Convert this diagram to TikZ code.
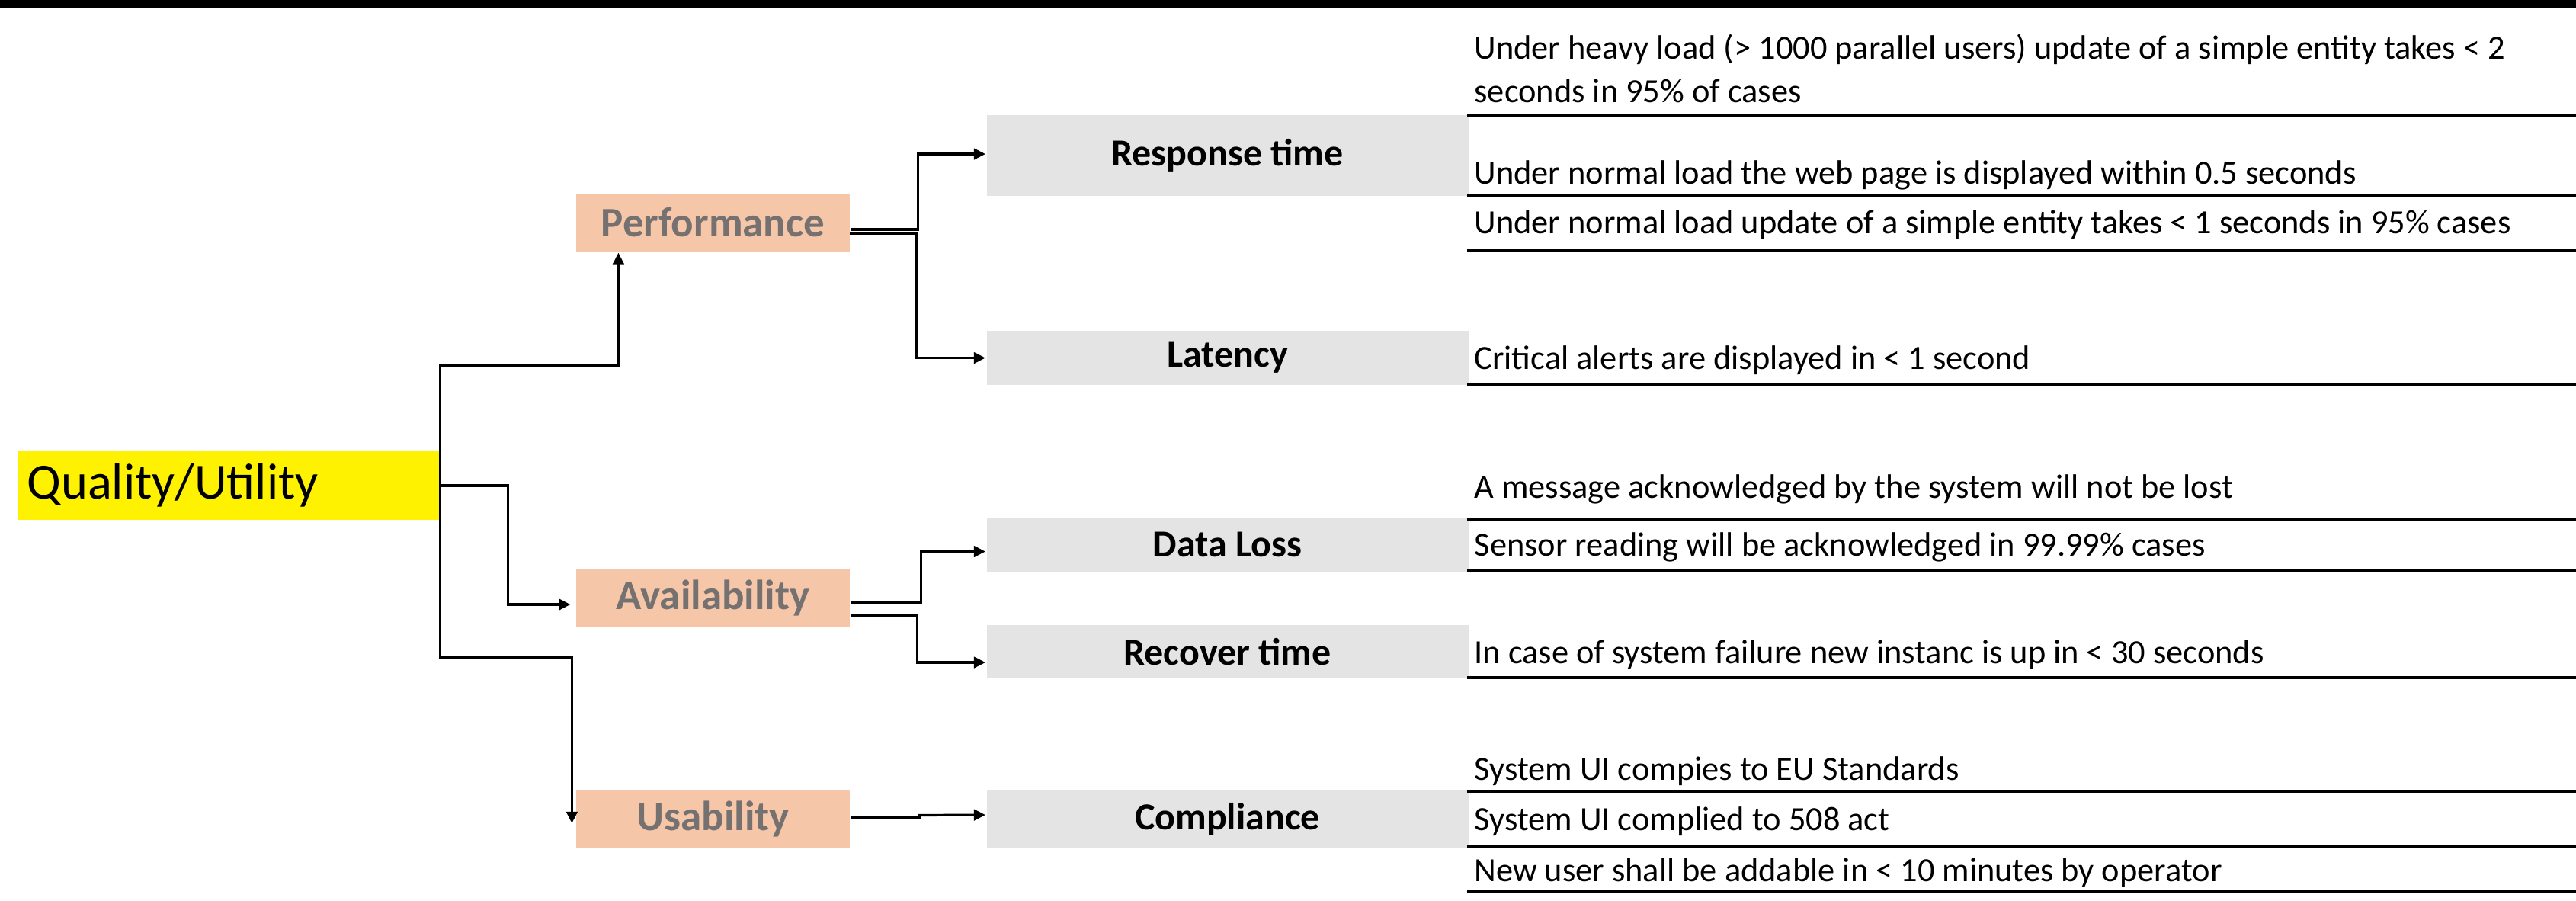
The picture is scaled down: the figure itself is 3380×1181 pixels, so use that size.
\documentclass[tikz,border=0pt]{standalone}
\usepackage{fontspec}
\setmainfont{Carlito}
\usetikzlibrary{arrows.meta,calc}

\definecolor{peach}{RGB}{246,198,168}
\definecolor{headgray}{RGB}{118,113,113}
\definecolor{boxgray}{RGB}{228,228,228}

\tikzset{every picture/.style={line width=0.8pt}}
\tikzset{
  attrbox/.style={fill=peach, text=headgray, inner sep=0pt, minimum width=89.75pt, minimum height=19pt,
    font=\fontsize{13.75}{16}\selectfont\bfseries},
  refbox/.style={fill=boxgray, text=black, inner sep=0pt, minimum width=158pt,
    font=\fontsize{12.5}{15}\selectfont\bfseries},
  reqtext/.style={anchor=base west, inner sep=0pt, font=\fontsize{11.1}{14.25}\selectfont},
  arr/.style={-{Triangle[length=3.75pt,width=3.6pt]}},
  rule/.style={line width=0.85pt}
}

\begin{document}
\begin{tikzpicture}[x=0.25pt,y=0.25pt,yscale=-1,xscale=1]
        \useasboundingbox (0,0) rectangle (3380,1181);
        %Top bar
        \fill [black] (0,0) rectangle (3380,10);
        %Root
        \node [fill=yellow, anchor=west, inner xsep=3pt, inner ysep=0pt, minimum height=22.5pt, text width=132pt, align=left,
          font=\fontsize{16.6}{19}\selectfont] (qu) at (22,637) {Quality/Utility};
        %Attributes
        \node [attrbox] (perf) at (935.5,292) {Performance};
        \node [attrbox] (avail) at (935.5,785) {Availability};
        \node [attrbox] (usab) at (935.5,1074.5) {Usability};
        %Refinements
        \node [refbox, minimum height=26.5pt] (resp) at (1610.5,204) {Response time};
        \node [refbox, minimum height=17.75pt] (lat) at (1610.5,469.5) {Latency};
        \node [refbox, minimum height=17.5pt] (dloss) at (1610.5,714.5) {Data Loss};
        \node [refbox, minimum height=17.5pt] (recov) at (1610.5,855) {Recover time};
        \node [refbox, minimum height=18.75pt] (compl) at (1610.5,1074.5) {Compliance};

        % Text Node
        \node [reqtext] (r1a) at (1933,77) {Under heavy load (> 1000 parallel users) update of a simple entity takes < 2};
        \node [reqtext] (r1b) at (1933,134) {seconds in 95\% of cases};
        \node [reqtext] (r2) at (1933,241) {Under normal load the web page is displayed within 0.5 seconds};
        \node [reqtext] (r3) at (1933,306) {Under normal load update of a simple entity takes < 1 seconds in 95\% cases};
        \node [reqtext] (r4) at (1933,484) {Critical alerts are displayed in < 1 second};
        \node [reqtext] (r5) at (1933,653) {A message acknowledged by the system will not be lost};
        \node [reqtext] (r6) at (1933,729) {Sensor reading will be acknowledged in 99.99\% cases};
        \node [reqtext] (r7) at (1933,870) {In case of system failure new instanc is up in < 30 seconds};
        \node [reqtext] (r8) at (1933,1023) {System UI compies to EU Standards};
        \node [reqtext] (r9) at (1933,1089) {System UI complied to 508 act};
        \node [reqtext] (r10) at (1933,1156) {New user shall be addable in < 10 minutes by operator};

        %Rules under requirements
        \foreach \y in {152,256,329,504,681,748,889,1038,1111,1170}
          \draw [rule] (1925,\y) -- (3380,\y);

        %Connectors
        \draw [arr] (qu.east) -- ++(0,-158) -| ($(perf.south west)+(57,0)$);
        \draw [arr] (qu.east) -- ++(89,0) |- ($(avail.west)+(-6,8)$);
        \draw [arr] (qu.east) -- ++(0,226) -| ($(usab.north west)+(-4,45)$);
        \draw [arr] ($(perf.east)+(0,9)$) -- ++(88,0) |- ($(resp.west)+(0,-2)$);
        \draw [arr] ($(perf.east)+(-2,14)$) -- ++(88,0) |- (lat.west);
        \draw [arr] ($(avail.east)+(0,6)$) -- ++(92,0) |- ($(dloss.west)+(0,9)$);
        \draw [arr] ($(avail.east)+(0,22)$) -- ++(87,0) |- ($(recov.west)+(0,14)$);
        \draw [arr] ($(usab.east)+(0,-2)$) -- ++(90,0) -- ++(0,-3) -- ($(compl.west)+(0,-5.5)$);
\end{tikzpicture}
\end{document}
